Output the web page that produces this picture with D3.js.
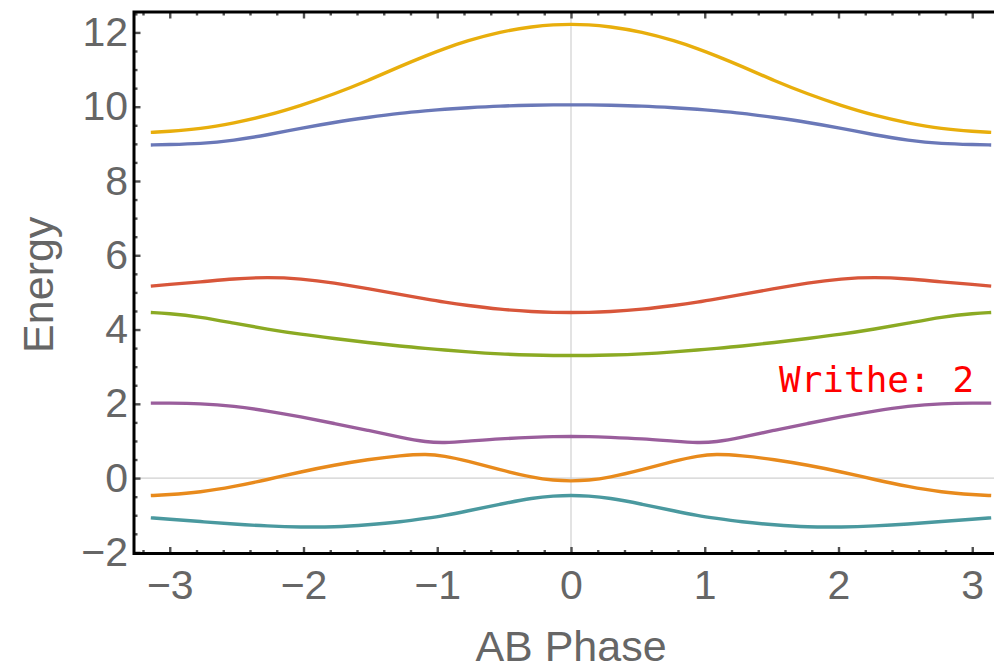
<!DOCTYPE html>
<html><head><meta charset="utf-8">
<script src="https://cdn.jsdelivr.net/npm/d3@7"></script>
<style>body{margin:0;background:#fff;overflow:hidden}</style>
</head><body><svg id="c" width="994" height="666"></svg>
<script>
const phase = [-3.1416,-3.02,-2.77,-2.52,-2.27,-2.02,-1.77,-1.52,-1.27,-1.08,-0.95,-0.78,-0.53,-0.28,-0.13,0,
  0.13,0.28,0.53,0.78,0.95,1.08,1.27,1.52,1.77,2.02,2.27,2.52,2.77,3.02,3.1416];
const band1 = [-1.07,-1.10,-1.17,-1.24,-1.29,-1.32,-1.32,-1.26,-1.18,-1.08,-1.01,-0.89,-0.70,-0.53,-0.48,-0.46,
  -0.48,-0.53,-0.70,-0.89,-1.01,-1.08,-1.18,-1.26,-1.32,-1.32,-1.29,-1.24,-1.17,-1.10,-1.07];
const band2 = [-0.47,-0.45,-0.38,-0.23,-0.04,0.17,0.35,0.50,0.61,0.65,0.60,0.47,0.22,0.01,-0.06,-0.08,
  -0.06,0.01,0.22,0.47,0.60,0.65,0.61,0.50,0.35,0.17,-0.04,-0.23,-0.38,-0.45,-0.47];
const band3 = [2.02,2.02,2.01,1.94,1.81,1.65,1.47,1.29,1.09,0.97,0.95,0.99,1.06,1.10,1.12,1.12,
  1.12,1.10,1.06,0.99,0.95,0.97,1.09,1.29,1.47,1.65,1.81,1.94,2.01,2.02,2.02];
const band4 = [4.46,4.44,4.34,4.17,4.01,3.87,3.76,3.65,3.55,3.49,3.45,3.40,3.34,3.31,3.30,3.30,
  3.30,3.31,3.34,3.40,3.45,3.49,3.55,3.65,3.76,3.87,4.01,4.17,4.34,4.44,4.46];
const band5 = [5.17,5.21,5.28,5.37,5.41,5.37,5.26,5.10,4.94,4.82,4.74,4.65,4.54,4.48,4.46,4.46,
  4.46,4.48,4.54,4.65,4.74,4.82,4.94,5.10,5.26,5.37,5.41,5.37,5.28,5.21,5.17];
const band6 = [8.97,8.98,9.00,9.09,9.24,9.42,9.58,9.71,9.83,9.89,9.93,9.97,10.02,10.04,10.05,10.05,
  10.05,10.04,10.02,9.97,9.93,9.89,9.83,9.71,9.58,9.42,9.24,9.09,9.00,8.98,8.97];
const band7 = [9.31,9.33,9.40,9.56,9.76,10.03,10.34,10.70,11.10,11.38,11.56,11.77,12.02,12.16,12.21,12.22,
  12.21,12.16,12.02,11.77,11.56,11.38,11.10,10.70,10.34,10.03,9.76,9.56,9.40,9.33,9.31];
const bandColors = ["#4A999F","#E88A1C","#9A5E9C","#8BAA23","#D8563A","#6A78B8","#E8AE0C"];
const xMajor = [-3,-2,-1,0,1,2,3];
const yMajor = [-2,0,2,4,6,8,10,12];
const xLabel = "AB Phase", yLabel = "Energy", note = "Writhe: 2";

const bands = [band1,band2,band3,band4,band5,band6,band7];
const svg = d3.select("#c");
const L = 134, T = 12, R = 1008, B = 553.5;
const x = d3.scaleLinear().domain([-3.2673, 3.2673]).range([L, R]);
const y = d3.scaleLinear().domain([-2.03, 12.55]).range([B, T]);

// origin axes (light gray)
svg.append("line").attr("x1", x(0)).attr("x2", x(0)).attr("y1", T).attr("y2", B)
  .attr("stroke", "#d0d0d0").attr("stroke-width", 1.2);
svg.append("line").attr("x1", L).attr("x2", R).attr("y1", y(0)).attr("y2", y(0))
  .attr("stroke", "#d0d0d0").attr("stroke-width", 1.2);

const line = d3.line().x(d => x(d[0])).y(d => y(d[1])).curve(d3.curveBasis);
bands.forEach((b, i) => {
  svg.append("path").datum(phase.map((p, j) => [p, b[j]]))
    .attr("d", line).attr("fill", "none").attr("stroke", bandColors[i])
    .attr("stroke-width", 3.4).attr("stroke-linejoin", "round");
});

const xMinor = d3.range(-16, 17).map(k => k * 0.2).filter(v => Math.abs(v - Math.round(v)) > 1e-6);
const yMinor = d3.range(-4, 26).map(k => k * 0.5).filter(v => Math.abs(v / 2 - Math.round(v / 2)) > 1e-6 && v >= -2.03 && v <= 12.55);

function styleAxis(g) {
  g.select(".domain").remove();
  g.selectAll(".tick line").attr("stroke", "#505050").attr("stroke-width", 2.4);
  g.selectAll(".tick text").attr("fill", "#666").attr("font-family", "Liberation Sans, Arial, sans-serif").attr("font-size", 41);
}
// bottom
svg.append("g").attr("transform", `translate(0,${B})`)
  .call(d3.axisBottom(x).tickValues(xMajor).tickSize(-6.5).tickPadding(9).tickFormat(d => d < 0 ? "\u2212" + Math.abs(d) : d))
  .call(styleAxis).selectAll("text").attr("dy", "0.88em");
svg.append("g").attr("transform", `translate(0,${B})`)
  .call(d3.axisBottom(x).tickValues(xMinor).tickSize(-3.5).tickFormat("")).call(styleAxis);
// top
svg.append("g").attr("transform", `translate(0,${T})`)
  .call(d3.axisTop(x).tickValues(xMajor).tickSize(-6.5).tickFormat("")).call(styleAxis);
svg.append("g").attr("transform", `translate(0,${T})`)
  .call(d3.axisTop(x).tickValues(xMinor).tickSize(-3.5).tickFormat("")).call(styleAxis);
// left
svg.append("g").attr("transform", `translate(${L},0)`)
  .call(d3.axisLeft(y).tickValues(yMajor).tickSize(-6.5).tickPadding(6).tickFormat(d => d < 0 ? "\u2212" + Math.abs(d) : d))
  .call(styleAxis);
svg.append("g").attr("transform", `translate(${L},0)`)
  .call(d3.axisLeft(y).tickValues(yMinor).tickSize(-3.5).tickFormat("")).call(styleAxis);

// frame
svg.append("rect").attr("x", L).attr("y", T).attr("width", R - L).attr("height", B - T)
  .attr("fill", "none").attr("stroke", "#000").attr("stroke-width", 3);

// axis labels
svg.append("text").attr("x", x(0)).attr("y", 661).attr("text-anchor", "middle")
  .attr("font-family", "Liberation Sans, Arial, sans-serif").attr("font-size", 43).attr("fill", "#666").text(xLabel);
svg.append("text").attr("transform", `translate(53,${(T + B) / 2 + 2}) rotate(-90)`).attr("text-anchor", "middle")
  .attr("font-family", "Liberation Sans, Arial, sans-serif").attr("font-size", 43).attr("fill", "#666").text(yLabel);

// annotation
svg.append("text").attr("x", 779).attr("y", 392)
  .attr("font-family", "DejaVu Sans Mono, monospace").attr("font-size", 36).attr("fill", "#FF0000").text(note);
</script></body></html>
